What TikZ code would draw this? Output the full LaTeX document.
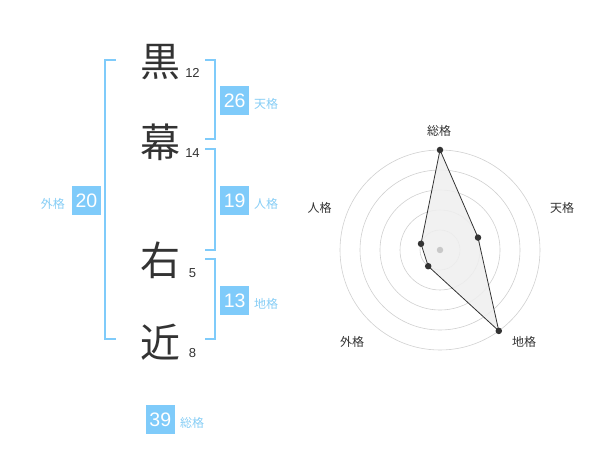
\documentclass[tikz,border=0pt]{standalone}
\usepackage{fontspec}
\newfontfamily\cjk{Noto Sans CJK JP}
\newfontfamily\num{Liberation Sans}
\definecolor{boxblue}{HTML}{7FCBFA}
\definecolor{lblblue}{HTML}{86CDF5}
\definecolor{ink}{HTML}{333333}
\definecolor{ring}{HTML}{D0D0D0}
\definecolor{cdotc}{HTML}{C8C8C8}
\definecolor{polyfill}{HTML}{EFEFEF}
\tikzset{
  bigchar/.style={font=\cjk\fontsize{40}{40}\selectfont, text=ink, inner sep=0pt},
  strokes/.style={font=\num\fontsize{13}{13}\selectfont, text=ink, inner sep=0pt},
  valbox/.style={fill=boxblue, text=white, minimum width=29pt, minimum height=29pt, inner sep=0pt, font=\num\fontsize{19.5}{19.5}\selectfont},
  kakulbl/.style={font=\cjk\fontsize{12}{12}\selectfont, text=lblblue, inner sep=0pt},
  bracket/.style={draw=boxblue, line width=2pt},
  radarlbl/.style={font=\cjk\fontsize{12}{12}\selectfont, text=ink, inner sep=0pt},
  ringline/.style={draw=ring, line width=0.6pt},
  dot/.style={circle, fill=ink, minimum size=6.5pt, inner sep=0pt}
}
\begin{document}
\begin{tikzpicture}[x=1pt,y=-1pt]
\useasboundingbox (0,0) rectangle (600,470);
% characters
\node[bigchar] (c1) at (160,62) {黒};
\node[bigchar] (c2) at (160,142) {幕};
\node[bigchar] (c3) at (160,260) {右};
\node[bigchar] (c4) at (160,342) {近};
\node[strokes] (n1) at (192.5,73) {12};
\node[strokes] (n2) at (192.5,153) {14};
\node[strokes] (n3) at (192.5,273) {5};
\node[strokes] (n4) at (192.5,353) {8};
% brackets
\draw[bracket] (115.5,60) -- (105,60) -- (105,339.5) -- (115.5,339.5);
\draw[bracket] (205,60) -- (214.5,60) -- (214.5,139.5) -- (205,139.5);
\draw[bracket] (205,149.5) -- (214.5,149.5) -- (214.5,250) -- (205,250);
\draw[bracket] (205,259.5) -- (214.5,259.5) -- (214.5,339.5) -- (205,339.5);
% value boxes
\node[valbox] (ten) at (234.7,100.3) {26};
\node[kakulbl, anchor=west] (tenl) at (254,104) {天格};
\node[valbox] (jin) at (234.7,200.3) {19};
\node[kakulbl, anchor=west] (jinl) at (254,204) {人格};
\node[valbox] (chi) at (234.7,300.3) {13};
\node[kakulbl, anchor=west] (chil) at (254,304) {地格};
\node[valbox] (gai) at (86.5,200.3) {20};
\node[kakulbl, anchor=east] (gail) at (65,204) {外格};
\node[valbox] (sou) at (160.3,419.5) {39};
\node[kakulbl, anchor=west] (soul) at (180,423) {総格};
% radar
\coordinate (ctr) at (440,250);
\foreach \r in {20,40,60,80,100} \draw[ringline] (ctr) circle[radius=\r];
\coordinate (pS) at (440,150);
\coordinate (pT) at (478.0,237.6);
\coordinate (pC) at (498.8,330.9);
\coordinate (pG) at (428.2,266.2);
\coordinate (pJ) at (421.0,243.8);
\fill[polyfill, fill opacity=0.85] (pS) -- (pT) -- (pC) -- (pG) -- (pJ) -- cycle;
\draw[ink, line width=0.8pt, line join=round] (pS) -- (pT) -- (pC) -- (pG) -- (pJ) -- cycle;
\node[circle, fill=cdotc, minimum size=6.5pt, inner sep=0pt] (cdot) at (ctr) {};
\foreach \p in {pS,pT,pC,pG,pJ} \node[dot] at (\p) {};
\node[radarlbl] (lS) at (439,131) {総格};
\node[radarlbl] (lT) at (562,208) {天格};
\node[radarlbl] (lC) at (524,342) {地格};
\node[radarlbl] (lG) at (352,342) {外格};
\node[radarlbl] (lJ) at (319.5,208) {人格};
\end{tikzpicture}
\end{document}
